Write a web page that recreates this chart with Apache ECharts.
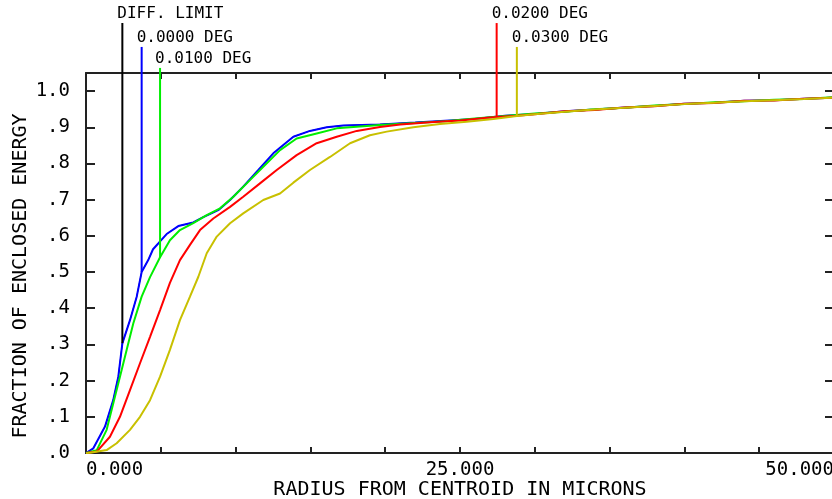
<!DOCTYPE html>
<html>
<head>
<meta charset="utf-8">
<title>Encircled Energy</title>
<script src="https://cdn.jsdelivr.net/npm/echarts@6/dist/echarts.min.js"></script>
<style>
    html, body {margin: 0; padding: 0; background: #fff;}
    #chart {width: 832px; height: 499px;}
</style>
</head>
<body>
<div id="chart"></div>
<script>
// radius (microns) / fraction of enclosed energy
const diffLimit = [[0,0],[0.49,0.013],[1.27,0.073],[1.82,0.146],[2.16,0.211],[2.43,0.303],[2.94,0.367],[3.39,0.432],[3.72,0.50],[4.16,0.533],[4.48,0.563],[4.83,0.579],[5.39,0.605],[6.17,0.627],[7.17,0.637],[7.84,0.652],[8.84,0.671],[9.63,0.699],[10.51,0.736],[11.52,0.782],[12.52,0.828],[13.86,0.874],[14.97,0.89],[16.09,0.90],[17.2,0.905],[19.65,0.908],[25,0.92],[30,0.937],[40,0.964],[50,0.982]];
const deg0000 = [[0,0],[0.49,0.013],[1.27,0.073],[1.82,0.146],[2.16,0.211],[2.43,0.303],[2.94,0.367],[3.39,0.432],[3.72,0.50],[4.16,0.533],[4.48,0.563],[4.83,0.579],[5.39,0.605],[6.17,0.627],[7.17,0.637],[7.84,0.652],[8.84,0.671],[9.63,0.699],[10.51,0.736],[11.52,0.782],[12.52,0.828],[13.86,0.874],[14.97,0.89],[16.09,0.90],[17.2,0.905],[19.65,0.908],[22,0.913],[24,0.918],[26,0.923],[28,0.932],[30,0.937],[32,0.944],[34,0.949],[36,0.955],[38,0.959],[40,0.965],[42,0.968],[44,0.973],[46,0.975],[48,0.979],[50,0.982]];
const deg0100 = [[0,0],[0.72,0.008],[1.38,0.064],[1.82,0.137],[2.27,0.211],[2.72,0.285],[3.16,0.358],[3.72,0.432],[4.28,0.486],[4.95,0.541],[5.61,0.588],[6.28,0.616],[7.17,0.635],[8.07,0.657],[8.96,0.676],[9.85,0.708],[10.96,0.754],[11.85,0.791],[12.97,0.837],[14.08,0.869],[15.42,0.883],[16.76,0.897],[18.54,0.903],[19.65,0.906],[22,0.912],[24,0.917],[26,0.924],[28,0.931],[30,0.938],[32,0.943],[34,0.95],[36,0.954],[38,0.96],[40,0.964],[42,0.969],[44,0.972],[46,0.976],[48,0.978],[50,0.983]];
const deg0200 = [[0,0],[0.72,0.004],[1.6,0.045],[2.27,0.10],[2.94,0.174],[3.61,0.248],[4.28,0.321],[4.95,0.395],[5.61,0.47],[6.28,0.533],[6.95,0.575],[7.62,0.616],[8.51,0.648],[9.63,0.68],[10.51,0.708],[11.63,0.745],[12.75,0.782],[14.08,0.823],[15.42,0.856],[16.76,0.874],[18.1,0.89],[19.65,0.901],[21,0.908],[23,0.914],[25,0.919],[27,0.927],[28.8,0.932],[30,0.936],[32,0.944],[34,0.948],[36,0.955],[38,0.958],[40,0.965],[42,0.967],[44,0.973],[46,0.974],[48,0.979],[50,0.982]];
const deg0300 = [[0,0],[0.27,0.001],[1.38,0.008],[2.05,0.027],[2.94,0.064],[3.61,0.10],[4.28,0.146],[4.95,0.211],[5.61,0.285],[6.28,0.367],[6.95,0.432],[7.51,0.487],[8.07,0.552],[8.74,0.598],[9.63,0.635],[10.51,0.662],[11.85,0.699],[12.97,0.717],[13.86,0.747],[14.97,0.782],[16.31,0.818],[17.65,0.856],[18.98,0.878],[20.1,0.888],[21.88,0.90],[23.66,0.909],[25.45,0.915],[27.23,0.923],[28.8,0.931],[30,0.936],[32,0.943],[34,0.949],[36,0.954],[38,0.959],[40,0.964],[42,0.968],[44,0.972],[46,0.975],[48,0.978],[50,0.982]];

// label pointers: where each vertical line hits its curve, and how high its label sits
const markerNames = ['DIFF. LIMIT', '0.0000 DEG', '0.0100 DEG', '0.0200 DEG', '0.0300 DEG'];
const markerR = [2.43, 3.72, 4.95, 27.45, 28.8];
const markerE = [0.303, 0.50, 0.541, 0.929, 0.931];
const markerTop = [1.188, 1.122, 1.064, 1.188, 1.122];

const curveNames = ['DIFF. LIMIT', '0.0000 DEG', '0.0100 DEG', '0.0200 DEG', '0.0300 DEG'];
const curveData = [diffLimit, deg0000, deg0100, deg0200, deg0300];
const colors = ['#000000', '#0000ff', '#00ee00', '#ff0000', '#c8c000'];

const FONT = 'DejaVu Sans Mono';

const chart = echarts.init(document.getElementById('chart'));

const series = [];
curveData.forEach((d, i) => {
    series.push({
        name: curveNames[i],
        type: 'line',
        data: d,
        showSymbol: false,
        lineStyle: {color: colors[i], width: i === 0 ? 1 : 2},
        itemStyle: {color: colors[i]},
        z: 2 + i
    });
});
markerNames.forEach((n, i) => {
    series.push({
        name: n + ' marker',
        type: 'line',
        clip: false,
        symbol: 'circle',
        symbolSize: 0,
        lineStyle: {color: colors[i], width: 2},
        itemStyle: {color: colors[i]},
        z: 10,
        data: [
            [markerR[i], markerE[i]],
            {
                value: [markerR[i], markerTop[i]],
                label: {
                    show: true,
                    position: 'top',
                    distance: 1,
                    align: 'left',
                    offset: [-5, 0],
                    formatter: n,
                    fontFamily: FONT,
                    fontSize: 16,
                    color: '#000'
                }
            }
        ]
    });
});

const frameLine = {show: true, onZero: false, lineStyle: {color: '#222', width: 2}};
const tick = len => ({show: true, inside: true, length: len, lineStyle: {color: '#222', width: 2}});

chart.setOption({
    animation: false,
    backgroundColor: '#fff',
    grid: {left: 86, top: 73, width: 748, height: 380, containLabel: false, outerBoundsMode: 'none'},
    xAxis: [
        {
            type: 'value',
            position: 'bottom',
            min: 0, max: 50, interval: 5,
            name: 'RADIUS FROM CENTROID IN MICRONS',
            nameLocation: 'middle',
            nameGap: 27,
            nameMoveOverlap: false,
            nameTextStyle: {fontFamily: FONT, fontSize: 20, color: '#000'},
            axisLine: frameLine,
            axisTick: tick(6),
            axisLabel: {
                show: true,
                margin: 8,
                fontFamily: FONT,
                fontSize: 19,
                color: '#000',
                alignMinLabel: 'left',
                alignMaxLabel: 'right',
                formatter: v => (v % 25 === 0 ? v.toFixed(3) : '')
            },
            splitLine: {show: false}
        },
        {
            type: 'value',
            position: 'top',
            min: 0, max: 50, interval: 5,
            axisLine: frameLine,
            axisTick: tick(6),
            axisLabel: {show: false},
            splitLine: {show: false}
        }
    ],
    yAxis: [
        {
            type: 'value',
            position: 'left',
            min: 0, max: 1.05, interval: 0.1,
            name: 'FRACTION OF ENCLOSED ENERGY',
            nameLocation: 'middle',
            nameRotate: 90,
            nameGap: 55,
            nameMoveOverlap: false,
            nameTextStyle: {fontFamily: FONT, fontSize: 20, color: '#000', padding: [0, 26, 0, 0]},
            axisLine: frameLine,
            axisTick: tick(9),
            axisLabel: {
                show: true,
                margin: 16,
                fontFamily: FONT,
                fontSize: 19,
                color: '#000',
                formatter: v => {
                    const t = Math.round(v * 10);
                    if (Math.abs(v * 10 - t) > 1e-6) return '';
                    return t === 10 ? '1.0' : '.' + t;
                }
            },
            splitLine: {show: false}
        },
        {
            type: 'value',
            position: 'right',
            min: 0, max: 1.05, interval: 0.1,
            axisLine: {show: false, onZero: false},
            axisTick: tick(9),
            axisLabel: {show: false},
            splitLine: {show: false}
        }
    ],
    series: series
});
</script>
</body>
</html>
